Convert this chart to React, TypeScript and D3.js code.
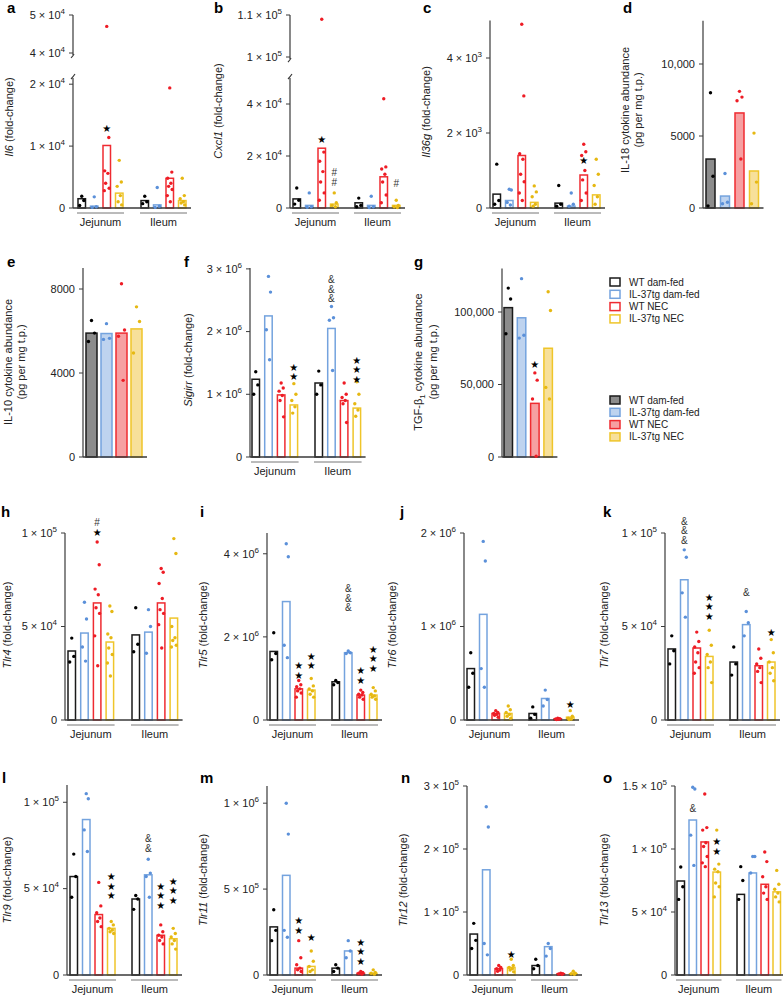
import React from 'react';
import * as d3 from 'd3';

const FONT = 'Liberation Sans, Arial, Helvetica, sans-serif';

const groupNames = ['Jejunum', 'Ileum'];
const seriesNames = ['WT dam-fed', 'IL-37tg dam-fed', 'WT NEC', 'IL-37tg NEC'];
const strokeColors = ['#1a1a1a', '#74a3de', '#ef2b31', '#efc52a'];
const fillColors = ['#8c8c8c', '#bed3ef', '#f6a0a2', '#f7e09a'];
const dotColors = ['#000000', '#5b90d9', '#ee1c25', '#e6b812'];

// a: Il6
const il6Means = [1500, 300, 10100, 2400, 1200, 500, 4800, 1200];
const il6Points = [[1900, 1200, 400], [1800, 200, 100], [47000, 11400, 6000, 5600, 4000, 3200, 2800], [7700, 4200, 3500, 2000, 1000, 500], [1900, 1000, 700], [3300, 300, 100], [19400, 5800, 4800, 4000, 3500, 3000, 2000, 1000], [4800, 2000, 1500, 1000, 800, 500]];
const il6Marks = [[2, '★', 12900]];
const il6Ticks = [0, 10000, 20000, 40000, 50000];
const il6TickLabels = ['0', '1 × 10^4', '2 × 10^4', '4 × 10^4', '5 × 10^4'];

// b: Cxcl1
const cxcl1Means = [3500, 1000, 23000, 1500, 2000, 1000, 12000, 1000];
const cxcl1Points = [[7700, 3000, 1500], [5800, 500, 300], [109000, 21500, 18000, 14000, 10000, 5800, 3000], [5800, 2000, 1000, 500], [3800, 1000, 500], [4500, 500, 200], [42000, 15800, 15000, 13000, 10000, 5000, 2000], [3000, 1000, 500, 200]];
const cxcl1Marks = [[2, '★', 26500], [3, '##', 10000], [7, '#', 9600]];
const cxcl1Ticks = [0, 20000, 40000, 100000, 110000];
const cxcl1TickLabels = ['0', '2 × 10^4', '4 × 10^4', '1 × 10^5', '1.1 × 10^5'];

// c: Il36g
const il36gMeans = [370, 200, 1400, 150, 130, 50, 880, 350];
const il36gPoints = [[1170, 200, 100], [500, 480, 150, 80], [4900, 2990, 1450, 1300, 900, 700, 400, 200], [590, 430, 300, 100, 50], [600, 100, 50], [400, 100, 50], [1700, 1500, 1400, 1000, 750, 400, 200], [1300, 900, 600, 300, 100]];
const il36gMarks = [[6, '★', 1280]];
const il36gTicks = [0, 2000, 4000];
const il36gTickLabels = ['0', '2 × 10^3', '4 × 10^3'];

// d: IL-18
const il18Means = [3400, 830, 6600, 2570];
const il18Points = [[8000, 2200, 150], [2400, 400, 300], [8100, 7700, 7450, 3400], [5200, 1800, 300]];
const il18Ticks = [0, 5000, 10000];
const il18TickLabels = ['0', '5000', '10,000'];

// e: IL-10
const il10Means = [5900, 5880, 5900, 6100];
const il10Points = [[6500, 5900, 5500], [6350, 5650, 5600], [8250, 6050, 5750, 3650], [7150, 6450, 4950]];
const il10Ticks = [0, 4000, 8000];
const il10TickLabels = ['0', '4000', '8000'];

// f: Sigirr
const sigirrMeans = [1.24e6, 2.25e6, 0.99e6, 0.83e6, 1.18e6, 2.05e6, 0.9e6, 0.78e6];
const sigirrPoints = [[1.36e6, 1.15e6, 1.0e6], [2.88e6, 2.63e6, 2.03e6, 1.55e6], [1.18e6, 1.1e6, 1.05e6, 0.98e6, 0.9e6, 0.64e6], [1.17e6, 1.0e6, 0.9e6, 0.8e6, 0.7e6], [1.37e6, 1.15e6, 1.0e6], [2.4e6, 2.22e6, 2.18e6, 1.38e6], [1.18e6, 1.0e6, 0.95e6, 0.9e6, 0.85e6, 0.55e6], [1.2e6, 1.0e6, 0.85e6, 0.75e6, 0.65e6]];
const sigirrMarks = [[3, '★★', 1.28e6], [5, '&&&', 2.52e6], [7, '★★★', 1.24e6]];
const sigirrTicks = [0, 1e6, 2e6, 3e6];
const sigirrTickLabels = ['0', '1 × 10^6', '2 × 10^6', '3 × 10^6'];

// g: TGF-b1
const tgfMeans = [103000, 96000, 37000, 75000];
const tgfPoints = [[116500, 109000, 85000], [123000, 84000, 82000], [58000, 53000, 40000, 500], [114000, 101000, 48000, 40000]];
const tgfMarks = [[2, '★', 64000]];
const tgfTicks = [0, 50000, 100000];
const tgfTickLabels = ['0', '50,000', '100,000'];

// h: Tlr4
const tlr4Means = [36900, 46500, 62600, 41700, 45500, 47000, 62600, 54500];
const tlr4Points = [[43800, 34000, 31000], [63000, 54000, 39000, 31500], [95200, 83000, 70000, 67000, 60000, 57000, 45000, 29000], [61000, 58000, 46000, 44000, 38500, 35000, 30500, 23500], [60000, 40500, 36500], [59000, 50000, 35700], [81000, 79000, 73000, 65000, 59000, 57000, 51000, 38500], [97000, 89000, 50000, 44000, 42500, 40000, 39000]];
const tlr4Marks = [[2, '#★', 100500]];
const tlr4Ticks = [0, 50000, 100000];
const tlr4TickLabels = ['0', '5 × 10^4', '1 × 10^5'];

// i: Tlr5
const tlr5Means = [1.65e6, 2.85e6, 0.75e6, 0.72e6, 0.92e6, 1.62e6, 0.6e6, 0.6e6];
const tlr5Points = [[2.1e6, 1.6e6, 1.45e6], [4.24e6, 3.93e6, 1.8e6, 1.5e6], [0.95e6, 0.85e6, 0.8e6, 0.75e6, 0.7e6, 0.65e6, 0.55e6], [1.0e6, 0.82e6, 0.75e6, 0.7e6, 0.62e6, 0.55e6], [0.95e6, 0.9e6, 0.85e6], [1.66e6, 1.62e6, 1.6e6], [0.72e6, 0.66e6, 0.62e6, 0.6e6, 0.55e6, 0.5e6], [0.78e6, 0.7e6, 0.62e6, 0.58e6, 0.55e6, 0.5e6]];
const tlr5Marks = [[2, '★★', 1.08e6], [3, '★★', 1.3e6], [5, '&&&', 2.7e6], [6, '★★', 0.96e6], [7, '★★★', 1.25e6]];
const tlr5Ticks = [0, 2e6, 4e6];
const tlr5TickLabels = ['0', '2 × 10^6', '4 × 10^6'];

// j: Tlr6
const tlr6Means = [0.55e6, 1.13e6, 0.07e6, 0.07e6, 0.07e6, 0.23e6, 0.01e6, 0.03e6];
const tlr6Points = [[0.72e6, 0.5e6, 0.35e6], [1.91e6, 1.7e6, 0.55e6, 0.35e6], [0.1e6, 0.08e6, 0.07e6, 0.06e6, 0.05e6, 0.03e6], [0.15e6, 0.11e6, 0.08e6, 0.06e6, 0.04e6, 0.02e6], [0.14e6, 0.06e6, 0.02e6], [0.32e6, 0.22e6, 0.15e6], [0.02e6, 0.015e6, 0.01e6, 0.008e6, 0.005e6], [0.1e6, 0.04e6, 0.02e6, 0.01e6, 0.005e6]];
const tlr6Marks = [[7, '★', 0.17e6]];
const tlr6Ticks = [0, 1e6, 2e6];
const tlr6TickLabels = ['0', '1 × 10^6', '2 × 10^6'];

// k: Tlr7
const tlr7Means = [38000, 75000, 38500, 34000, 31000, 51000, 29000, 31000];
const tlr7Points = [[45000, 37000, 30000], [91000, 87000, 68000, 55000], [47000, 42000, 39000, 36000, 31000, 28000, 25000], [48000, 40000, 35000, 31000, 28000, 20000], [39000, 30000, 24000], [58000, 52000, 45000], [38000, 33000, 30000, 28000, 26000, 20000], [43000, 36000, 31000, 28000, 25000, 21000]];
const tlr7Marks = [[1, '&&&', 96000], [3, '★★★', 55600], [5, '&', 68000], [7, '★', 47000]];
const tlr7Ticks = [0, 50000, 100000];
const tlr7TickLabels = ['0', '5 × 10^4', '1 × 10^5'];

// l: Tlr9
const tlr9Means = [57000, 90000, 35000, 27000, 44000, 58000, 23000, 21000];
const tlr9Points = [[70000, 57000, 45000], [105000, 102000, 84000, 71500], [53600, 40000, 36000, 33000, 31000, 28000], [31000, 29000, 27000, 26000, 25000, 24000], [46000, 44000, 38000], [67000, 59000, 57000, 45000], [29000, 25000, 23000, 22000, 20000, 18000], [27000, 24000, 22000, 20000, 18000, 15000]];
const tlr9Marks = [[3, '★★★', 46000], [5, '&&', 73500], [6, '★★★', 40500], [7, '★★★', 43400]];
const tlr9Ticks = [0, 50000, 100000];
const tlr9TickLabels = ['0', '5 × 10^4', '1 × 10^5'];

// m: Tlr11
const tlr11Means = [0.28e6, 0.58e6, 0.04e6, 0.05e6, 0.04e6, 0.14e6, 0.01e6, 0.01e6];
const tlr11Points = [[0.38e6, 0.26e6, 0.2e6], [1.0e6, 0.82e6, 0.26e6, 0.22e6], [0.2e6, 0.1e6, 0.06e6, 0.04e6, 0.03e6, 0.02e6], [0.14e6, 0.08e6, 0.05e6, 0.03e6, 0.02e6], [0.06e6, 0.04e6, 0.02e6], [0.2e6, 0.14e6, 0.1e6], [0.02e6, 0.015e6, 0.01e6, 0.005e6], [0.03e6, 0.015e6, 0.01e6, 0.005e6]];
const tlr11Marks = [[2, '★★', 0.26e6], [3, '★', 0.22e6], [6, '★★★', 0.08e6]];
const tlr11Ticks = [0, 5e5, 1e6];
const tlr11TickLabels = ['0', '5 × 10^5', '1 × 10^6'];

// n: Tlr12
const tlr12Means = [0.65e5, 1.67e5, 0.1e5, 0.12e5, 0.15e5, 0.45e5, 0.02e5, 0.02e5];
const tlr12Points = [[0.82e5, 0.55e5, 0.42e5], [2.67e5, 2.35e5, 0.5e5, 0.32e5], [0.15e5, 0.12e5, 0.1e5, 0.08e5, 0.06e5], [0.25e5, 0.15e5, 0.12e5, 0.1e5, 0.08e5, 0.05e5], [0.25e5, 0.15e5, 0.1e5], [0.5e5, 0.42e5, 0.3e5], [0.03e5, 0.02e5, 0.015e5, 0.01e5], [0.06e5, 0.03e5, 0.02e5, 0.01e5]];
const tlr12Marks = [[3, '★', 0.33e5]];
const tlr12Ticks = [0, 1e5, 2e5, 3e5];
const tlr12TickLabels = ['0', '1 × 10^5', '2 × 10^5', '3 × 10^5'];

// o: Tlr13
const tlr13Means = [74600, 123000, 105600, 81700, 64000, 81000, 72000, 66000];
const tlr13Points = [[85700, 70000, 60000], [149000, 147600, 111000, 87000], [143600, 117000, 115000, 105000, 102000, 94000, 89000, 86000], [115000, 88000, 84000, 82000, 73000, 70000, 62000], [86000, 75000, 60000], [94000, 94000, 81000], [97600, 90000, 78000, 70000, 65000, 60000], [83000, 72000, 68000, 65000, 62000, 58000]];
const tlr13Marks = [[1, '&', 132500], [3, '★★', 98400]];
const tlr13Ticks = [0, 50000, 100000, 150000];
const tlr13TickLabels = ['0', '5 × 10^4', '1 × 10^5', '1.5 × 10^5'];

const fc = (name) => [[{ t: name, it: true }, { t: ' (fold-change)' }]];
const cyto = (name, sub) => [sub ? [{ t: name }, { t: sub, sub: true }, { t: ' cytokine abundance' }] : [{ t: name + ' cytokine abundance' }], [{ t: '(pg per mg t.p.)' }]];

const TWO = { nGroups: 2, offsets: [3, 65], step: 12.5, barW: 7.5, filled: false };

const panels = [
  { letter: 'a', lx: 7, ly: 13, axisX: 73, zeroY: 208, topY: 78, max: 21000, brk: { lowMax: 21000, upMin: 40000, upMax: 50000, upBotY: 53, upTopY: 15, lineMin: 39500 }, ticks: il6Ticks, tickLabels: il6TickLabels, means: il6Means, points: il6Points, marks: il6Marks, ...TWO, offsets: [5, 68], title: fc('Il6'), titleX: [13], titleY: 117 },
  { letter: 'b', lx: 214, ly: 13, axisX: 290, zeroY: 208, topY: 78, max: 50000, brk: { lowMax: 50000, upMin: 100000, upMax: 110000, upBotY: 57, upTopY: 15, lineMin: 99500 }, ticks: cxcl1Ticks, tickLabels: cxcl1TickLabels, means: cxcl1Means, points: cxcl1Points, marks: cxcl1Marks, ...TWO, title: fc('Cxcl1'), titleX: [222], titleY: 111 },
  { letter: 'c', lx: 423, ly: 13, axisX: 490, zeroY: 208, topY: 20.5, max: 5000, ticks: il36gTicks, tickLabels: il36gTickLabels, means: il36gMeans, points: il36gPoints, marks: il36gMarks, ...TWO, title: fc('Il36g'), titleX: [430], titleY: 112 },
  { letter: 'd', lx: 623, ly: 13, axisX: 703, zeroY: 208, topY: 20.8, max: 13000, ticks: il18Ticks, tickLabels: il18TickLabels, means: il18Means, points: il18Points, marks: [], nGroups: 1, offsets: [3], step: 14.5, barW: 9, filled: true, title: cyto('IL-18'), titleX: [629, 642], titleY: 110 },
  { letter: 'e', lx: 7, ly: 267, axisX: 83, zeroY: 457, topY: 268, max: 9000, ticks: il10Ticks, tickLabels: il10TickLabels, means: il10Means, points: il10Points, marks: [], nGroups: 1, offsets: [3], step: 15, barW: 11, filled: true, title: cyto('IL-10'), titleX: [12, 25], titleY: 362 },
  { letter: 'f', lx: 184, ly: 267, axisX: 250, zeroY: 457, topY: 268, max: 3.014e6, ticks: sigirrTicks, tickLabels: sigirrTickLabels, means: sigirrMeans, points: sigirrPoints, marks: sigirrMarks, ...TWO, offsets: [2, 65], step: 12.7, title: fc('Sigirr'), titleX: [192], titleY: 360 },
  { letter: 'g', lx: 414, ly: 267, axisX: 502, zeroY: 457, topY: 268.5, max: 130000, ticks: tgfTicks, tickLabels: tgfTickLabels, means: tgfMeans, points: tgfPoints, marks: tgfMarks, nGroups: 1, offsets: [2], step: 13.3, barW: 8.5, filled: true, title: cyto('TGF-β', '1'), titleX: [422, 437], titleY: 362 },
  { letter: 'h', lx: 1, ly: 517, axisX: 65, zeroY: 720, topY: 533, max: 100000, ticks: tlr4Ticks, tickLabels: tlr4TickLabels, means: tlr4Means, points: tlr4Points, marks: tlr4Marks, ...TWO, offsets: [3, 67], step: 12.7, title: fc('Tlr4'), titleX: [11], titleY: 625 },
  { letter: 'i', lx: 200, ly: 517, axisX: 267, zeroY: 720, topY: 533, max: 4.5e6, ticks: tlr5Ticks, tickLabels: tlr5TickLabels, means: tlr5Means, points: tlr5Points, marks: tlr5Marks, ...TWO, title: fc('Tlr5'), titleX: [207], titleY: 625 },
  { letter: 'j', lx: 400, ly: 517, axisX: 464, zeroY: 720, topY: 533, max: 2e6, ticks: tlr6Ticks, tickLabels: tlr6TickLabels, means: tlr6Means, points: tlr6Points, marks: tlr6Marks, ...TWO, title: fc('Tlr6'), titleX: [396], titleY: 625 },
  { letter: 'k', lx: 603, ly: 517, axisX: 665, zeroY: 720, topY: 533, max: 100000, ticks: tlr7Ticks, tickLabels: tlr7TickLabels, means: tlr7Means, points: tlr7Points, marks: tlr7Marks, ...TWO, title: fc('Tlr7'), titleX: [608], titleY: 625 },
  { letter: 'l', lx: 2, ly: 783, axisX: 67, zeroY: 975, topY: 785, max: 110000, ticks: tlr9Ticks, tickLabels: tlr9TickLabels, means: tlr9Means, points: tlr9Points, marks: tlr9Marks, ...TWO, title: fc('Tlr9'), titleX: [11], titleY: 880 },
  { letter: 'm', lx: 200, ly: 783, axisX: 267, zeroY: 975, topY: 786, max: 1.1e6, ticks: tlr11Ticks, tickLabels: tlr11TickLabels, means: tlr11Means, points: tlr11Points, marks: tlr11Marks, ...TWO, title: fc('Tlr11'), titleX: [207], titleY: 880 },
  { letter: 'n', lx: 401, ly: 783, axisX: 467, zeroY: 975, topY: 786, max: 3e5, ticks: tlr12Ticks, tickLabels: tlr12TickLabels, means: tlr12Means, points: tlr12Points, marks: tlr12Marks, ...TWO, title: fc('Tlr12'), titleX: [407], titleY: 880 },
  { letter: 'o', lx: 603, ly: 783, axisX: 675, zeroY: 975, topY: 786, max: 150000, ticks: tlr13Ticks, tickLabels: tlr13TickLabels, means: tlr13Means, points: tlr13Points, marks: tlr13Marks, ...TWO, offsets: [2, 62], step: 12, title: fc('Tlr13'), titleX: [608], titleY: 880 },
];

const jitter = [0, 2.2, -2.2, 1.2, -1.2, 2.6, -2.6, 0.6];

function TickLabel({ x, y, label }) {
  const [base, exp] = label.split('^');
  return (
    <text x={x} y={y} textAnchor="end" dy="0.35em" fontSize={11} fill="#222">
      {base}
      {exp !== undefined && <tspan dy={-5} fontSize={8}>{exp}</tspan>}
    </text>
  );
}

function Title({ lines, xs, y }) {
  return (
    <g>
      {lines.map((parts, li) => (
        <text key={li} transform={`translate(${xs[li]},${y}) rotate(-90)`} textAnchor="middle" dy="0.35em" fontSize={11} fill="#222">
          {parts.map((p, pi) => {
            const prevSub = pi > 0 && parts[pi - 1].sub;
            return (
              <tspan key={pi} fontStyle={p.it ? 'italic' : 'normal'} fontSize={p.sub ? 8 : 11} dy={p.sub ? 3 : prevSub ? -3 : 0}>{p.t}</tspan>
            );
          })}
        </text>
      ))}
    </g>
  );
}

function Panel({ p }) {
  const low = d3.scaleLinear().domain([0, p.max]).range([p.zeroY, p.topY]);
  const up = p.brk ? d3.scaleLinear().domain([p.brk.upMin, p.brk.upMax]).range([p.brk.upBotY, p.brk.upTopY]) : null;
  const y = (v) => (p.brk && v > p.brk.lowMax ? up(v) : low(v));
  const barX = (k) => p.axisX + p.offsets[Math.floor(k / 4)] + (k % 4) * p.step;
  const xEnd = barX(p.means.length - 1) + p.barW + 5;
  const axisColor = '#3a3a3a';
  const SP = 9.5;
  return (
    <g>
      <text x={p.lx} y={p.ly} fontSize={15} fontWeight="bold" fill="#000">{p.letter}</text>
      <Title lines={p.title} xs={p.titleX} y={p.titleY} />
      {p.brk ? (
        <g stroke={axisColor} strokeWidth={1.2} fill="none">
          <line x1={p.axisX} x2={p.axisX} y1={p.zeroY} y2={p.topY} />
          <path d={`M${p.axisX - 2},${p.topY + 1} Q${p.axisX},${p.topY - 1} ${p.axisX + 2},${p.topY - 4}`} />
          <line x1={p.axisX} x2={p.axisX} y1={up(p.brk.lineMin)} y2={p.brk.upTopY} />
          <path d={`M${p.axisX - 2},${up(p.brk.lineMin) + 3} Q${p.axisX},${up(p.brk.lineMin) + 1} ${p.axisX + 1},${up(p.brk.lineMin) - 1}`} />
        </g>
      ) : (
        <line x1={p.axisX} x2={p.axisX} y1={p.zeroY} y2={p.topY} stroke={axisColor} strokeWidth={1.2} />
      )}
      {p.ticks.map((t, i) => (
        <g key={i}>
          <line x1={p.axisX - 4} x2={p.axisX} y1={y(t)} y2={y(t)} stroke={axisColor} strokeWidth={1} />
          <TickLabel x={p.axisX - 8} y={y(t)} label={p.tickLabels[i]} />
        </g>
      ))}
      {p.means.map((m, k) => {
        const s = k % 4;
        const x0 = barX(k);
        const h = Math.max(p.zeroY - y(m), 1.2);
        return (
          <rect key={k} x={x0} y={p.zeroY - h} width={p.barW} height={h}
            fill={p.filled ? fillColors[s] : 'none'} stroke={strokeColors[s]} strokeWidth={1.5} />
        );
      })}
      <line x1={p.axisX} x2={xEnd} y1={p.zeroY} y2={p.zeroY} stroke={axisColor} strokeWidth={1.3} />
      {p.nGroups === 2 && groupNames.map((g, gi) => {
        const xs = barX(gi * 4) - 1;
        const xe = barX(gi * 4 + 3) + p.barW + 1;
        return (
          <g key={g}>
            <line x1={xs} x2={xe} y1={p.zeroY + 5} y2={p.zeroY + 5} stroke="#777" strokeWidth={1} />
            <text x={(xs + xe) / 2} y={p.zeroY + 18} textAnchor="middle" fontSize={11} fill="#222">{g}</text>
          </g>
        );
      })}
      {p.points.map((pts, k) => {
        const s = k % 4;
        const cx = barX(k) + p.barW / 2;
        return pts.map((v, j) => (
          <circle key={`${k}-${j}`} cx={cx + jitter[j % jitter.length] * (p.barW / 8)} cy={y(v)} r={1.7} fill={dotColors[s]} />
        ));
      })}
      {p.marks.map(([k, sym, v], mi) => {
        const cx = barX(k) + p.barW / 2;
        const chars = Array.from(sym);
        const n = chars.length;
        return (
          <text key={mi} x={cx} y={y(v) - (n - 1) * SP} textAnchor="middle" fill="#000" fontFamily={FONT}>
            {chars.map((c, ci) => (
              <tspan key={ci} x={cx} dy={ci === 0 ? 3.5 : SP}
                fontSize={10}
                fill={c === '★' ? '#000' : '#333'}
                fontFamily={c === '★' ? 'DejaVu Sans, sans-serif' : FONT}>{c}</tspan>
            ))}
          </text>
        );
      })}
    </g>
  );
}

function Legend({ x, y0, filled }) {
  return (
    <g>
      {seriesNames.map((s, i) => (
        <g key={s}>
          <rect x={x} y={y0 + i * 12.3 - 4} width={10} height={8} fill={filled ? fillColors[i] : '#fff'} stroke={strokeColors[i]} strokeWidth={1.5} />
          <text x={x + 19} y={y0 + i * 12.3} dy="0.35em" fontSize={10} fill="#222">{s}</text>
        </g>
      ))}
    </g>
  );
}

export default function App() {
  return (
    <div style={{ position: 'absolute', left: 0, top: 0 }}>
      <svg width={783} height={997} style={{ display: 'block', fontFamily: FONT, background: '#fff' }}>
        <rect width={783} height={997} fill="#fff" />
        {panels.map((p) => <Panel key={p.letter} p={p} />)}
        <Legend x={610} y0={282} filled={false} />
        <Legend x={610} y0={400} filled={true} />
      </svg>
    </div>
  );
}
